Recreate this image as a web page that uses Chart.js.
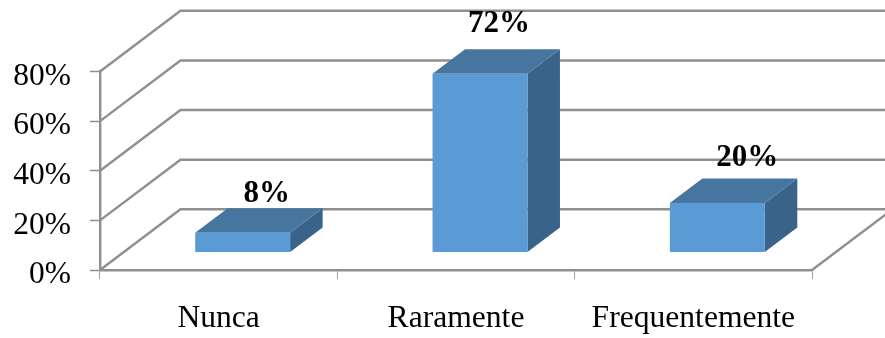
<!DOCTYPE html>
<html>
<head>
<meta charset="utf-8">
<style>
  html, body { margin: 0; padding: 0; background: #fff; }
  canvas { display: block; }
</style>
<script src="https://cdn.jsdelivr.net/npm/chart.js@4/dist/chart.umd.min.js"></script>
</head>
<body>
<canvas id="chart" width="885" height="338"></canvas>
<script>
const categories = ["Nunca", "Raramente", "Frequentemente"];
const values = [8, 72, 20];
const yTicks = [0, 20, 40, 60, 80];

const gridColor = "#8f8f8f";
const frontColor = "#5b9bd5";
const topColor = "#46759f";
const sideColor = "#3a6389";
const serif = '"Liberation Serif", "Times New Roman", serif';

// wall depth and bar depth of the fake 3d box
const wall = { dx: 80.5, dy: -60.7 };
const barShift = { dx: 24, dy: -17.5 };
const barDepth = { dx: 32.5, dy: -24.5 };
// the value labels were placed by hand in the original
const labelNudge = [{ x: 48, y: -56 }, { x: 43, y: -67 }, { x: 54, y: -62 }];

const box3d = {
  id: "box3d",
  beforeDatasetsDraw(chart) {
    const ctx = chart.ctx;
    const y = chart.scales.y, x = chart.scales.x;
    const left = x.left, right = x.right;

    ctx.save();
    ctx.strokeStyle = gridColor;
    ctx.lineWidth = 2.4;
    yTicks.forEach(t => {
      const py = y.getPixelForValue(t);
      ctx.beginPath();
      ctx.moveTo(left, py);
      ctx.lineTo(left + wall.dx, py + wall.dy);
      ctx.lineTo(right + wall.dx, py + wall.dy);
      ctx.stroke();
    });
    const floor = y.getPixelForValue(0);
    ctx.beginPath();
    ctx.moveTo(right, floor);
    ctx.lineTo(right + wall.dx, floor + wall.dy);
    ctx.stroke();
    ctx.restore();

    // side and top faces, front face comes from the bar element itself
    const bars = chart.getDatasetMeta(0).data;
    ctx.save();
    ctx.translate(barShift.dx, barShift.dy);
    bars.forEach(b => {
      const l = b.x - b.width / 2, r = b.x + b.width / 2;
      ctx.fillStyle = sideColor;
      ctx.beginPath();
      ctx.moveTo(r, b.base);
      ctx.lineTo(r + barDepth.dx, b.base + barDepth.dy);
      ctx.lineTo(r + barDepth.dx, b.y + barDepth.dy);
      ctx.lineTo(r, b.y);
      ctx.closePath();
      ctx.fill();
      ctx.fillStyle = topColor;
      ctx.beginPath();
      ctx.moveTo(l, b.y);
      ctx.lineTo(l + barDepth.dx, b.y + barDepth.dy);
      ctx.lineTo(r + barDepth.dx, b.y + barDepth.dy);
      ctx.lineTo(r, b.y);
      ctx.closePath();
      ctx.fill();
    });
    ctx.restore();

    ctx.save();
    ctx.translate(barShift.dx, barShift.dy);
  },
  afterDatasetsDraw(chart) {
    const ctx = chart.ctx;
    ctx.restore();

    const bars = chart.getDatasetMeta(0).data;
    ctx.save();
    ctx.fillStyle = "#000";
    ctx.font = "bold 31px " + serif;
    ctx.textAlign = "center";
    ctx.textBaseline = "middle";
    bars.forEach((b, i) => {
      ctx.fillText(values[i] + "%", b.x + labelNudge[i].x, b.y + labelNudge[i].y);
    });
    ctx.restore();
  }
};

new Chart(document.getElementById("chart"), {
  type: "bar",
  data: {
    labels: categories,
    datasets: [{
      data: values,
      backgroundColor: frontColor,
      barPercentage: 0.4,
      categoryPercentage: 1,
      clip: false
    }]
  },
  options: {
    responsive: false,
    animation: false,
    layout: { padding: { top: 71.5, right: 73, left: 0, bottom: 0 } },
    plugins: { legend: { display: false }, tooltip: { enabled: false } },
    scales: {
      x: {
        afterFit: s => { s.height = 68; },
        border: { color: gridColor, width: 2.4 },
        grid: { drawOnChartArea: false, tickLength: 9, tickColor: "#a0a0a0", tickWidth: 1 },
        ticks: { color: "#000", padding: 21, maxRotation: 0, font: { family: serif, size: 31.6 } }
      },
      y: {
        min: 0,
        max: 80,
        afterFit: s => { s.width = 100; },
        border: { color: gridColor, width: 2.4 },
        grid: { drawOnChartArea: false, tickLength: 10, tickColor: gridColor, tickWidth: 1.5 },
        ticks: {
          stepSize: 20,
          color: "#000",
          padding: 19,
          labelOffset: 5,
          font: { family: serif, size: 31.5 },
          callback: v => v + "%"
        }
      }
    }
  },
  plugins: [box3d]
});
</script>
</body>
</html>
